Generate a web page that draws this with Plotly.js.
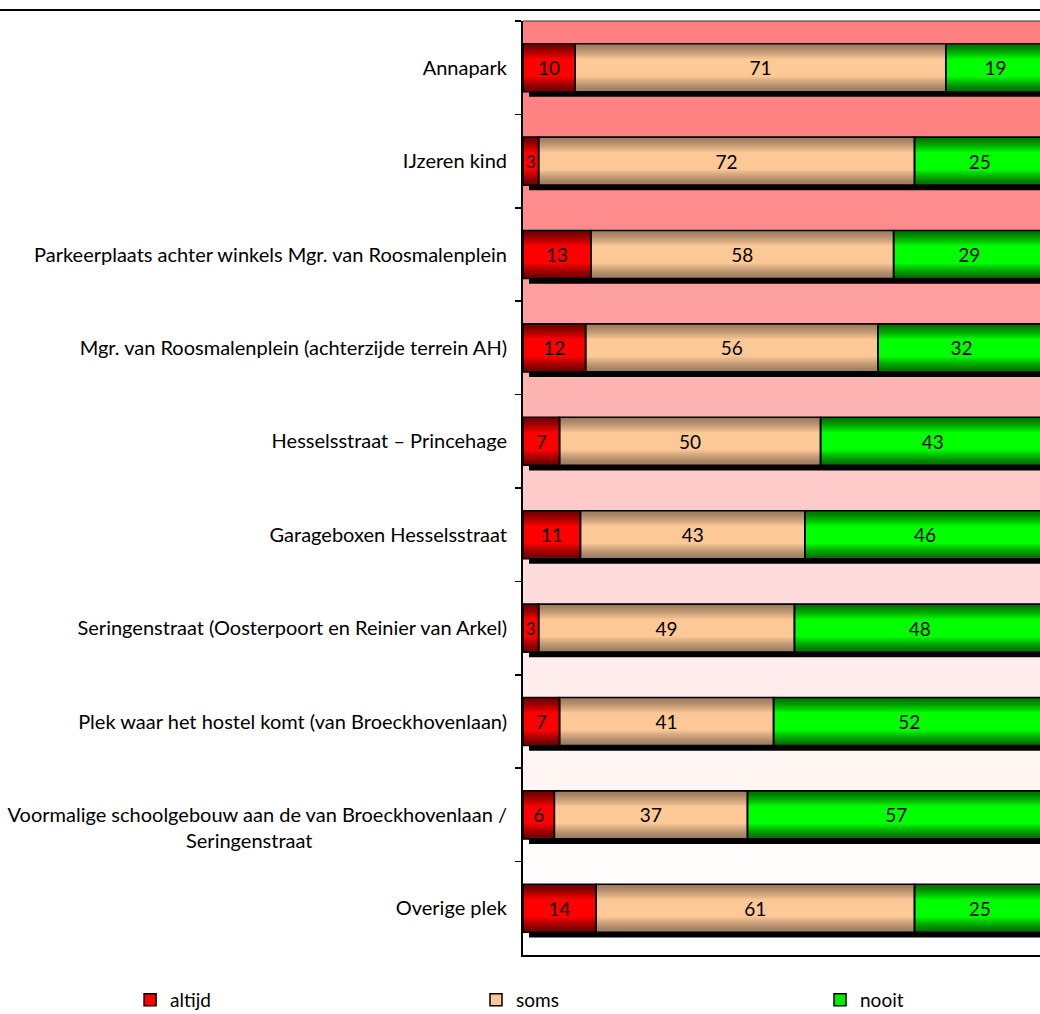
<!DOCTYPE html>
<html><head><meta charset="utf-8">
<script src="https://cdn.plot.ly/plotly-3.0.1.min.js"></script>
<style>html,body{margin:0;padding:0;background:#fff}#chart{width:1040px;height:1014px}</style>
</head><body><div id="chart"></div>
<script>
// ---- data ----
const NB = '\u00A0';
const categories = [
  'Annapark',
  'IJzeren kind',
  'Parkeerplaats achter winkels Mgr. van Roosmalenplein',
  'Mgr. van Roosmalenplein (achterzijde terrein AH)',
  'Hesselsstraat – Princehage',
  'Garageboxen Hesselsstraat',
  'Seringenstraat (Oosterpoort en Reinier van Arkel)',
  'Plek waar het hostel komt (van Broeckhovenlaan)',
  NB + '<br>Voormalige schoolgebouw aan de van Broeckhovenlaan /<br>Seringenstraat' + NB.repeat(38),
  'Overige plek'
];
const seriesNames = ['altijd', 'soms', 'nooit'];
const altijd = [10, 3, 13, 12, 7, 11, 3, 7, 6, 14];
const soms   = [71, 72, 58, 56, 50, 43, 49, 41, 37, 61];
const nooit  = [19, 25, 29, 32, 43, 46, 48, 52, 57, 25];

// ---- styling ----
const FONT = 'Lato, "Open Sans", sans-serif';
const W = 0.514;
const edgeColors   = [[112, 0, 0], [156, 124, 96], [0, 112, 0]];
const centerColors = [[255, 0, 0], [252, 200, 150], [0, 255, 0]];
const legendColors = ['#ff0000', '#fcc896', '#00ee00'];
const bandColors = ['#ff8080', '#ff8282', '#ff8c8c', '#ffa0a0', '#ffb4b4', '#ffcaca',
                    '#ffdcdc', '#ffeded', '#fff5f3', '#fffcfb', '#ffffff'];

const series = [altijd, soms, nooit];
const bases = [];
let run = categories.map(() => 0);
series.forEach(s => { bases.push(run.slice()); run = run.map((v, i) => v + s[i]); });
const totals = run;

const traces = [];
// shadow
traces.push({
  type: 'bar', orientation: 'h', y: categories, x: totals, base: 1.15,
  width: W, offset: -W / 2 + 0.055,
  marker: { color: '#000', line: { width: 0 } },
  showlegend: false, hoverinfo: 'skip'
});
// gradient layers
const N = 12;
series.forEach((s, si) => {
  for (let k = 0; k <= N; k++) {
    const f = 1 - k * 0.052;
    const t = Math.pow(k / N, 1.3);
    const c = edgeColors[si].map((e, j) => Math.round(e + (centerColors[si][j] - e) * t));
    traces.push({
      type: 'bar', orientation: 'h', y: categories, x: s, base: bases[si],
      width: W * f,
      marker: { color: `rgb(${c.join(',')})`, line: { width: 0 } },
      showlegend: false, hoverinfo: 'skip'
    });
  }
});
// outlines + labels
series.forEach((s, si) => {
  traces.push({
    type: 'bar', orientation: 'h', y: categories, x: s, base: bases[si],
    width: W, name: seriesNames[si],
    marker: { color: 'rgba(0,0,0,0)', line: { color: '#000', width: 1.6 } },
    text: s.map(String), textposition: 'inside', insidetextanchor: 'middle',
    textfont: { family: FONT, size: 19, color: '#000' },
    showlegend: false, hoverinfo: 'skip'
  });
});
// legend entries (one legend per series so they sit in three columns)
const legendIds = ['legend', 'legend2', 'legend3'];
seriesNames.forEach((n, si) => {
  traces.push({
    type: 'bar', orientation: 'h', x: [null], y: [null], name: n,
    legend: legendIds[si],
    marker: { color: legendColors[si], line: { color: '#000', width: 1.5 } },
    showlegend: true, hoverinfo: 'skip'
  });
});

const shapes = [];
for (let i = 0; i < bandColors.length; i++) {
  const y0 = i === 0 ? -0.5 : i - 1;
  const y1 = i === 0 ? 0 : (i === bandColors.length - 1 ? categories.length - 0.5 : i);
  shapes.push({ type: 'rect', layer: 'below', xref: 'paper', yref: 'y', x0: 0, x1: 1,
    y0: y0, y1: y1, fillcolor: bandColors[i], line: { width: 0 } });
}
shapes.push({ type: 'line', xref: 'paper', yref: 'paper', x0: -1.02, x1: 1.01,
  y0: 1.0118, y1: 1.0118, line: { color: '#000', width: 2 } });
shapes.push({ type: 'line', xref: 'paper', yref: 'paper', x0: 0, x1: 1,
  y0: 1, y1: 1, line: { color: '#333', width: 1 } });

const legendBase = { orientation: 'h', xanchor: 'left', y: -0.048, yanchor: 'middle',
  font: { family: FONT, size: 19, color: '#000' }, bgcolor: 'rgba(0,0,0,0)' };

const layout = {
  width: 1040, height: 1014,
  margin: { l: 523, r: 0, t: 21, b: 59, autoexpand: false },
  paper_bgcolor: '#fff', plot_bgcolor: '#fff',
  barmode: 'overlay',
  font: { family: FONT, size: 19, color: '#000' },
  xaxis: { range: [0, 99.04], showticklabels: false, showgrid: false, zeroline: false,
           showline: true, linecolor: '#000', linewidth: 2, ticks: '', fixedrange: true },
  yaxis: { type: 'category', autorange: 'reversed', showgrid: false, zeroline: false,
           showline: true, linecolor: '#000', linewidth: 2,
           ticks: 'outside', ticklen: 6, tickwidth: 1.5, tickcolor: '#000',
           tickson: 'boundaries', ticklabelstandoff: 10,
           tickfont: { family: FONT, size: 20, color: '#000' } },
  legend:  Object.assign({}, legendBase, { x: -0.760 }),
  legend2: Object.assign({}, legendBase, { x: -0.0909 }),
  legend3: Object.assign({}, legendBase, { x: 0.5745 }),
  shapes: shapes,
  showlegend: true
};

Plotly.newPlot('chart', traces, layout, { displayModeBar: false, staticPlot: true });
</script>
</body></html>
